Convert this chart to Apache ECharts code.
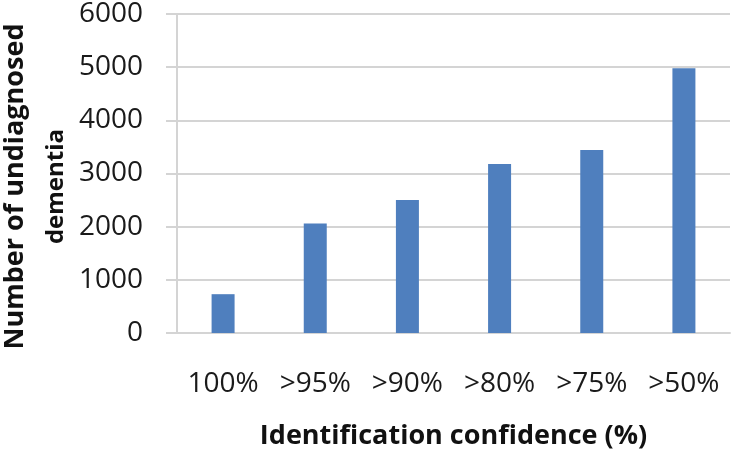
<!DOCTYPE html>
<html>
<head>
<meta charset="utf-8">
<script src="https://cdn.jsdelivr.net/npm/echarts@6/dist/echarts.min.js"></script>
<style>html,body{margin:0;padding:0;background:#fff}#c{width:732px;height:455px}</style>
</head>
<body>
<div id="c"></div>
<script>
var categories = ['100%', '>95%', '>90%', '>80%', '>75%', '>50%'];
var values = [730, 2060, 2500, 3180, 3440, 4980];
var yTicks = [0, 1000, 2000, 3000, 4000, 5000, 6000];
var xTitle = 'Identification confidence (%)';
var yTitleLines = ['Number of undiagnosed', 'dementia'];

var chart = echarts.init(document.getElementById('c'));
chart.setOption({
  animation: false,
  grid: { left: 177, right: 2, top: 14, bottom: 122, containLabel: false, outerBoundsMode: 'none' },
  xAxis: {
    type: 'category',
    data: categories,
    axisLine: { show: true, lineStyle: { color: '#d4d4d4', width: 2 } },
    axisTick: { show: false },
    axisLabel: { color: '#1a1a1a', fontSize: 28, fontFamily: 'Open Sans', margin: 37, interval: 0 },
    name: xTitle,
    nameLocation: 'middle',
    nameGap: 90,
    nameTextStyle: { color: '#111', fontSize: 27, fontWeight: 'bold', fontFamily: 'Open Sans' }
  },
  yAxis: {
    type: 'value',
    min: yTicks[0],
    max: yTicks[yTicks.length - 1],
    interval: 1000,
    axisLine: { show: true, lineStyle: { color: '#d4d4d4', width: 2 } },
    axisTick: { show: true, length: 11, lineStyle: { color: '#d4d4d4', width: 2 } },
    splitLine: { show: true, lineStyle: { color: '#d4d4d4', width: 2 } },
    axisLabel: { color: '#1a1a1a', fontSize: 28, fontFamily: 'Open Sans', margin: 34, formatter: function (v) { return String(v); } },
    name: '{a|' + yTitleLines[0] + '}\n{b|' + yTitleLines[1] + '}',
    nameLocation: 'middle',
    nameRotate: 90,
    nameGap: 98,
    nameTextStyle: {
      color: '#111', fontWeight: 'bold', fontFamily: 'Open Sans', align: 'center', padding: [0, 26, 0, 0],
      rich: {
        a: { fontSize: 27, fontWeight: 'bold', fontFamily: 'Open Sans', color: '#111', lineHeight: 40 },
        b: { fontSize: 24, fontWeight: 'bold', fontFamily: 'Open Sans', color: '#111', lineHeight: 42 }
      }
    }
  },
  series: [{
    type: 'bar',
    data: values,
    barWidth: 23,
    itemStyle: { color: '#4f7fbe' }
  }]
});
</script>
</body>
</html>
